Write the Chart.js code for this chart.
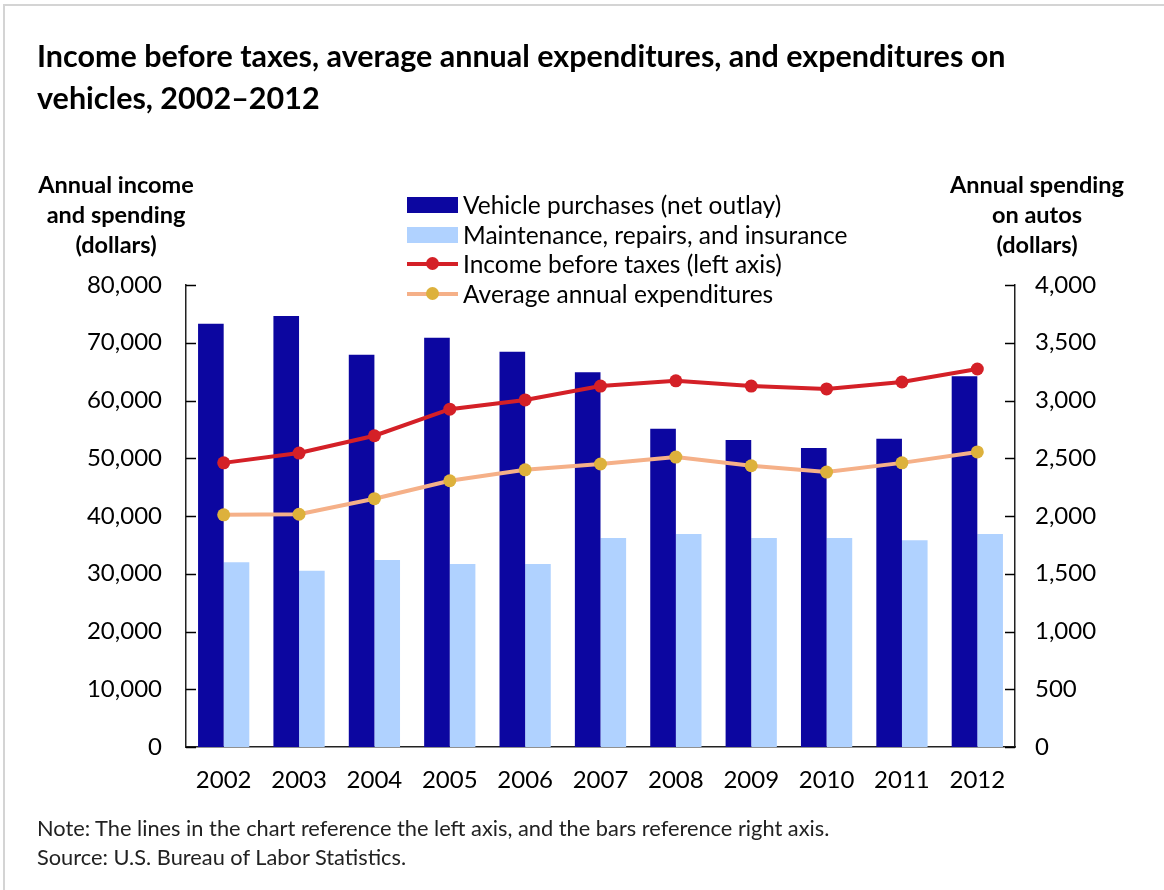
<!DOCTYPE html>
<html>
<head>
<meta charset="utf-8">
<script src="https://cdn.jsdelivr.net/npm/chart.js@4"></script>
<style>
  body { margin: 0; background: #fff; font-family: Lato, "Open Sans", sans-serif; color: #000; }
  #wrap { position: relative; width: 1164px; height: 890px; overflow: hidden; }
  #frame { position: absolute; left: 3px; top: 4px; width: 1200px; height: 1000px; border-top: 2px solid #d4d4d4; border-left: 2px solid #d4d4d4; }
  #chart-box { position: absolute; left: 0; top: 0; width: 1164px; height: 890px; }
  .txt { position: absolute; z-index: 2; white-space: nowrap; }
  #title { left: 37px; top: 34px; font-size: 30.5px; font-weight: bold; line-height: 42px; }
  .axis-title { font-size: 23.5px; font-weight: bold; line-height: 30px; text-align: center; top: 169px; }
  #left-title { left: 6px; width: 220px; }
  #right-title { left: 937px; width: 200px; }
  #legend { left: 407px; top: 190px; font-size: 24.5px; line-height: 29.5px; }
  .leg-row { display: flex; align-items: center; height: 29.5px; }
  .leg-sw { width: 51px; height: 29.5px; position: relative; margin-right: 5px; }
  #notes { left: 37px; top: 813px; font-size: 21.8px; line-height: 29px; color: #222; }
</style>
</head>
<body>
<div id="wrap">
  <div id="frame"></div>
  <div id="chart-box"><canvas id="cx-chart"></canvas></div>
  <div class="txt" id="title">Income before taxes, average annual expenditures, and expenditures on<br>vehicles, 2002–2012</div>
  <div class="txt axis-title" id="left-title">Annual income<br>and spending<br>(dollars)</div>
  <div class="txt axis-title" id="right-title">Annual spending<br>on autos<br>(dollars)</div>
  <div class="txt" id="legend"></div>
  <div class="txt" id="notes">Note: The lines in the chart reference the left axis, and the bars reference right axis.<br>Source: U.S. Bureau of Labor Statistics.</div>
</div>
<script>
// categories
const years = ["2002", "2003", "2004", "2005", "2006", "2007", "2008", "2009", "2010", "2011", "2012"]

// bars, right axis (dollars)
const vehicle_purchases = [3665, 3732, 3397, 3544, 3421, 3244, 2755, 2657, 2588, 2669, 3210]
const maintenance = [1600, 1525, 1620, 1585, 1585, 1810, 1845, 1810, 1810, 1790, 1845]

// lines, left axis (dollars)
const income = [49200, 50900, 53900, 58500, 60100, 62500, 63400, 62500, 62000, 63200, 65450]
const expenditures = [40200, 40300, 43000, 46100, 48000, 49000, 50200, 48700, 47600, 49200, 51100]

const tickFont = { family: "Lato", size: 24 }

// short tick marks drawn inward from both y axes
const innerTicks = {
  id: "innerTicks",
  afterDraw(chart) {
    const ctx = chart.ctx
    ctx.save()
    ctx.strokeStyle = "#000"
    ctx.lineWidth = 1.5
    for (const id of ["y", "y2"]) {
      const sc = chart.scales[id]
      const x0 = id === "y" ? chart.chartArea.left : chart.chartArea.right
      const dir = id === "y" ? 1 : -1
      sc.ticks.forEach(t => {
        const py = Math.round(sc.getPixelForValue(t.value)) + 0.5
        ctx.beginPath()
        ctx.moveTo(x0, py)
        ctx.lineTo(x0 + dir * 10, py)
        ctx.stroke()
      })
    }
    ctx.restore()
  }
}

const chart = new Chart(document.getElementById("cx-chart"), {
  type: "bar",
  data: {
    labels: years,
    datasets: [
      {
        type: "line",
        label: "Income before taxes (left axis)",
        data: income,
        yAxisID: "y",
        borderColor: "#d42027",
        backgroundColor: "#d42027",
        borderWidth: 4,
        pointRadius: 6.5,
        pointBorderWidth: 0,
        pointBackgroundColor: "#d42027",
        tension: 0,
        order: 0
      },
      {
        type: "line",
        label: "Average annual expenditures",
        data: expenditures,
        yAxisID: "y",
        borderColor: "#f5b088",
        backgroundColor: "#f5b088",
        borderWidth: 4,
        pointRadius: 6.5,
        pointBorderWidth: 0,
        pointBackgroundColor: "#ddb13c",
        tension: 0,
        order: 0
      },
      {
        label: "Vehicle purchases (net outlay)",
        data: vehicle_purchases,
        yAxisID: "y2",
        backgroundColor: "#0c06a0",
        categoryPercentage: 0.68,
        barPercentage: 1.0,
        order: 1
      },
      {
        label: "Maintenance, repairs, and insurance",
        data: maintenance,
        yAxisID: "y2",
        backgroundColor: "#b0d2ff",
        categoryPercentage: 0.68,
        barPercentage: 1.0,
        order: 1
      }
    ]
  },
  options: {
    responsive: true,
    maintainAspectRatio: false,
    animation: false,
    layout: { padding: { top: 285, left: 0, right: 0, bottom: 0 } },
    plugins: {
      legend: { display: false },
      tooltip: { enabled: false }
    },
    scales: {
      x: {
        grid: { display: false, drawTicks: false },
        border: { display: true, color: "#222", width: 1.5 },
        ticks: { font: tickFont, color: "#000", padding: 19, maxRotation: 0 },
        afterFit(s) { s.height = 143 }
      },
      y: {
        position: "left",
        min: 0,
        max: 80000,
        grid: { display: false, drawTicks: false },
        border: { display: true, color: "#222", width: 1.5 },
        ticks: {
          stepSize: 10000,
          font: tickFont,
          color: "#000",
          padding: 24,
          callback: v => v.toLocaleString("en-US")
        },
        afterFit(s) { s.width = 186 }
      },
      y2: {
        position: "right",
        min: 0,
        max: 4000,
        grid: { display: false, drawTicks: false },
        border: { display: true, color: "#222", width: 1.5 },
        ticks: {
          stepSize: 500,
          font: tickFont,
          color: "#000",
          padding: 20,
          callback: v => v.toLocaleString("en-US")
        },
        afterFit(s) { s.width = 149 }
      }
    }
  },
  plugins: [innerTicks]
})

// legend built from the datasets, bars first
const legend_order = [2, 3, 0, 1]
const leg = document.getElementById("legend")
legend_order.forEach(i => {
  const ds = chart.data.datasets[i]
  const row = document.createElement("div")
  row.className = "leg-row"
  const sw = document.createElement("div")
  sw.className = "leg-sw"
  if (ds.type === "line") {
    sw.innerHTML = '<div style="position:absolute;left:0;right:0;top:13px;height:4px;background:' + ds.borderColor + '"></div>' +
      '<div style="position:absolute;left:19px;top:8px;width:13px;height:13px;border-radius:50%;background:' + ds.pointBackgroundColor + '"></div>'
  } else {
    sw.innerHTML = '<div style="position:absolute;left:0;right:0;top:7px;height:16px;background:' + ds.backgroundColor + '"></div>'
  }
  row.appendChild(sw)
  const t = document.createElement("span")
  t.textContent = ds.label
  row.appendChild(t)
  leg.appendChild(row)
})
</script>
</body>
</html>
